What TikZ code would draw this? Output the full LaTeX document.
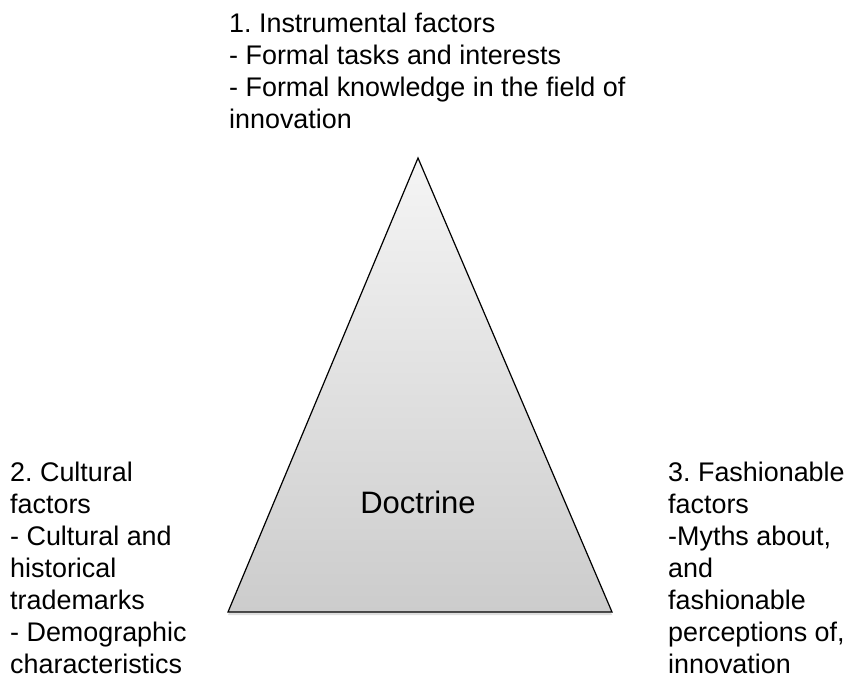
\documentclass[tikz,border=0pt]{standalone}
\usepackage{fontspec}
\setmainfont{Liberation Sans}
\frenchspacing
\usetikzlibrary{shadows}

\begin{document}
\begin{tikzpicture}[x=1pt,y=-1pt,
    factor/.style={anchor=north west,inner sep=0pt,align=left,
        font=\fontsize{26.9}{32}\selectfont}]
        \useasboundingbox (0,0) rectangle (846,677);

        \coordinate (apex)  at (418,158);
        \coordinate (lbase) at (228,612);
        \coordinate (rbase) at (612,612);

        \shade[top color=gray!8,bottom color=gray!40,draw=black,line width=1.2pt,line join=miter,
               drop shadow={shadow xshift=0pt,shadow yshift=-3pt,opacity=0.25}]
            (apex) -- (rbase) -- (lbase) -- cycle;

        \node[font=\fontsize{31}{36}\selectfont] (doctrine) at (418,502) {Doctrine};

        \node[factor] (instr) at (229,13) {1. Instrumental factors\\- Formal tasks and interests\\- Formal knowledge in the field of\\innovation};
        \node[factor] (cult)  at (10,462) {2. Cultural\\factors\\- Cultural and\\historical\\trademarks\\- Demographic\\characteristics};
        \node[factor] (fash)  at (668,462) {3. Fashionable\\factors\\-Myths about,\\and\\fashionable\\perceptions of,\\innovation};
    \end{tikzpicture}
\end{document}
